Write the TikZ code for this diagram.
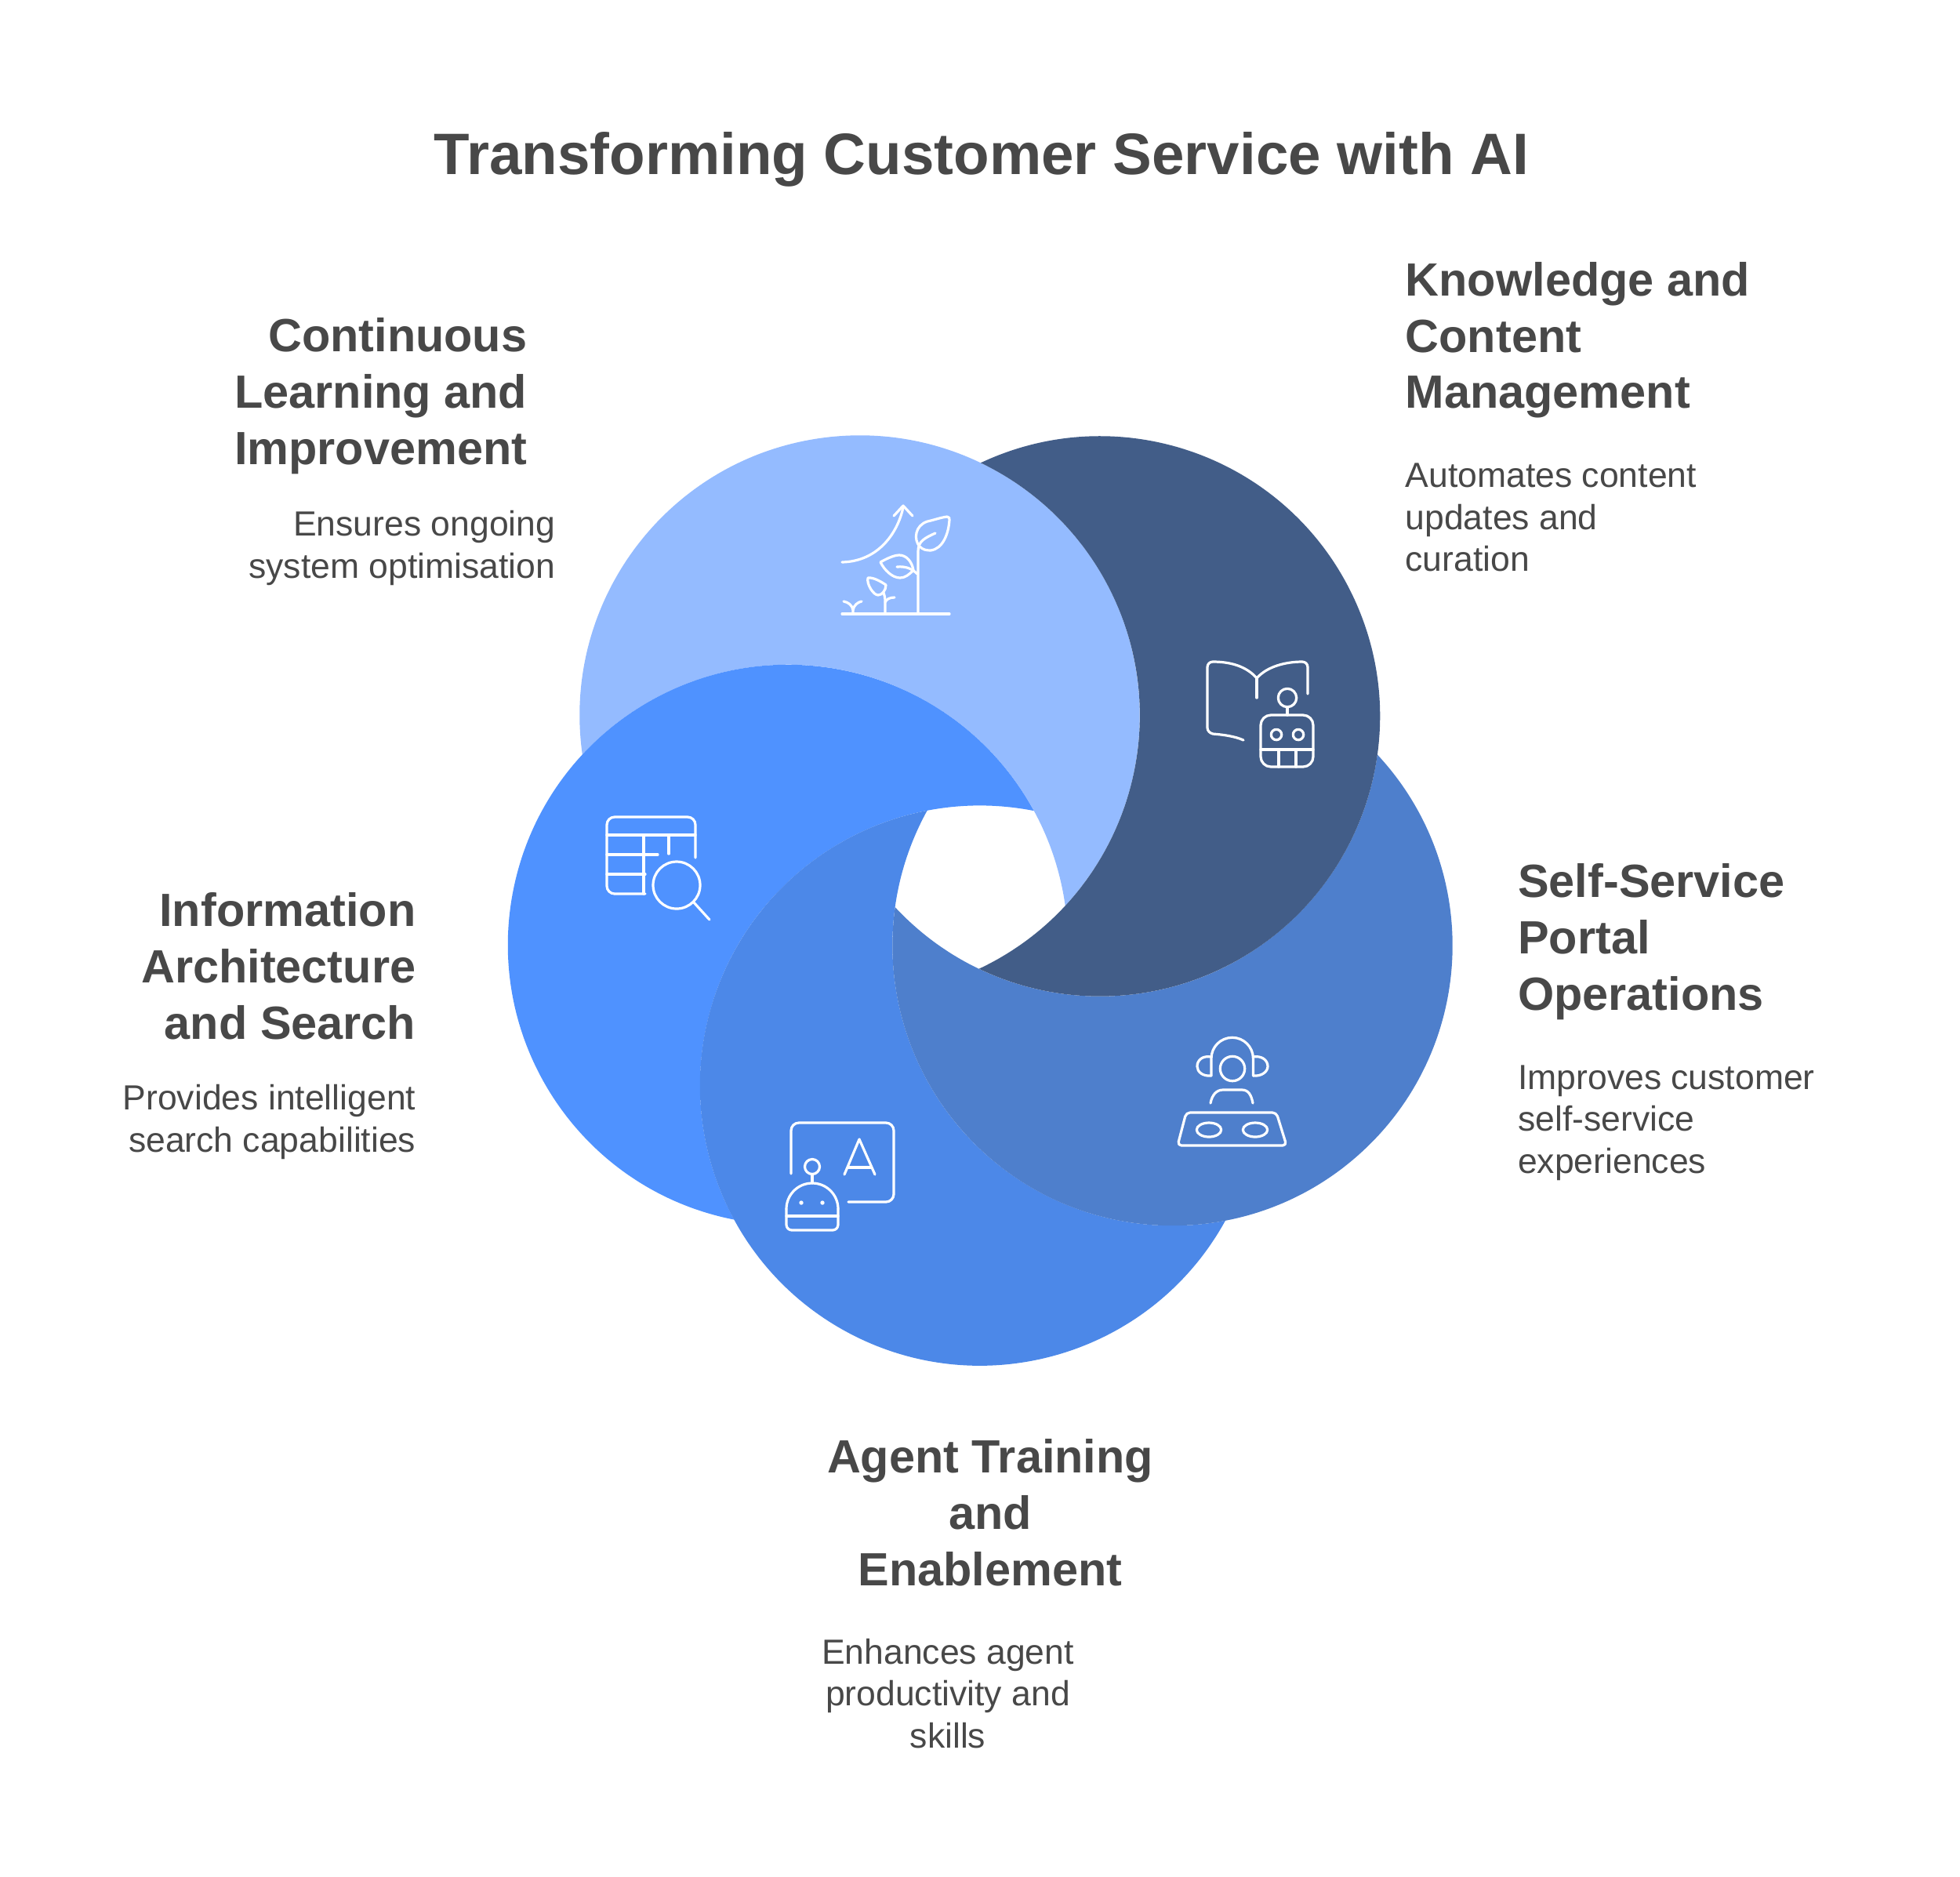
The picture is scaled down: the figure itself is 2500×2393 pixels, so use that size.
\documentclass[tikz,border=0pt]{standalone}
\usepackage{fontspec}
\setmainfont{Liberation Sans}
\definecolor{lightblue}{HTML}{94BBFF}
\definecolor{darkblue}{HTML}{425D88}
\definecolor{infoblue}{HTML}{4F92FF}
\definecolor{agentblue}{HTML}{4C88E8}
\definecolor{selfblue}{HTML}{4E7FCC}
\definecolor{inktext}{HTML}{484848}
\tikzset{
    maintitle/.style={text=inktext, inner sep=0pt, font=\fontsize{21.2}{26}\selectfont\bfseries},
    headtext/.style={text=inktext, inner sep=0pt, font=\fontsize{16.9}{20.4}\selectfont\bfseries},
    desctext/.style={text=inktext, inner sep=0pt, font=\fontsize{12.66}{15.2}\selectfont},
    icon/.style={white, line width=0.032cm, line cap=round, line join=round}
}
\begin{document}
\begin{tikzpicture}[x=0.01cm, y=-0.01cm]
        \useasboundingbox [fill=white] (0,0) rectangle (2500,2393);
        % Crescents
        \fill [lightblue] (1096.5,912.5) ++(171.97:357.2) arc (171.97:402.77:357.2) arc (351.97:222.77:357.2) -- cycle;
        \fill [infoblue] (1005,1205) ++(101.07:357.2) arc (101.07:331.41:357.2) arc (281.07:151.41:357.2) -- cycle;
        \fill [agentblue] (1250,1384.6) ++(28.82:357.2) arc (28.82:259.12:357.2) arc (208.82:79.12:357.2) -- cycle;
        \fill [selfblue] (1495.5,1206) ++(-42.98:357.2) arc (-42.98:187.88:357.2) arc (137.02:7.88:357.2) -- cycle;
        \fill [darkblue] (1403,913.5) ++(244.79:357.2) arc (244.79:475.59:357.2) arc (424.79:295.59:357.2) -- cycle;
        % Plant icon
        \draw [icon] (1074,783) -- (1211,783);
        \draw [icon] (1171,783) -- (1171,703) .. controls (1171,690) and (1180,686) .. (1193,680);
        \draw [icon] (1173,697) .. controls (1165,688) and (1167,670) .. (1183,665) .. controls (1192,663) and (1200,660) .. (1208,659) .. controls (1211,659) and (1211,661) .. (1211,663) .. controls (1210,680) and (1203,700) .. (1187,702) .. controls (1181,702) and (1177,701) .. (1173,697);
        \draw [icon] (1074,717) .. controls (1120,716) and (1145,680) .. (1152,647);
        \draw [icon] (1140,658) -- (1152,645) -- (1164,658);
        \draw [icon] (1123,717) .. controls (1130,713) and (1140,708) .. (1147,708) .. controls (1156,708) and (1163,716) .. (1165,727) .. controls (1160,733) and (1154,737) .. (1148,737) .. controls (1138,737) and (1128,727) .. (1123,717);
        \draw [icon] (1144,723) .. controls (1155,722) and (1163,725) .. (1170,732);
        \draw [icon] (1107,737) .. controls (1114,736) and (1124,742) .. (1130,746) .. controls (1130,753) and (1125,759) .. (1120,759) .. controls (1114,759) and (1105,745) .. (1107,737);
        \draw [icon] (1129,783) -- (1129,767) .. controls (1129,762) and (1128,759) .. (1127,756);
        \draw [icon] (1129,768) .. controls (1131,764) and (1135,762) .. (1141,762);
        \draw [icon] (1088,783) -- (1088,778) .. controls (1087,772) and (1082,768) .. (1076,767);
        \draw [icon] (1088,778) .. controls (1089,772) and (1094,768) .. (1099,767);
        % Book and robot icon
        \draw [icon] (1586,944) .. controls (1575,939) and (1560,937) .. (1547,936) .. controls (1543,935) and (1540,932) .. (1540,928) -- (1540,851) .. controls (1540,847) and (1543,844) .. (1547,844) .. controls (1570,844) and (1590,850) .. (1603,865) .. controls (1616,850) and (1640,844) .. (1661,844) .. controls (1665,844) and (1668,847) .. (1668,851) -- (1668,885);
        \draw [icon] (1603,865) -- (1603,890);
        \draw [icon] (1642,890) circle [radius=11.7];
        \draw [icon] (1642,902) -- (1642,912);
        \draw [icon, rounded corners=0.13cm] (1608,912) rectangle (1675,978);
        \draw [icon] (1628,937) circle [radius=6.7];
        \draw [icon] (1656,937) circle [radius=6.7];
        \draw [icon] (1608,956) -- (1675,956);
        \draw [icon] (1631,956) -- (1631,978);
        \draw [icon] (1653,956) -- (1653,978);
        % Table icon
        \draw [icon, rounded corners=0.1cm] (823,1140) -- (774,1140) -- (774,1042) -- (887,1042) -- (887,1094);
        \draw [icon] (774,1065) -- (887,1065);
        \draw [icon] (821,1065) -- (821,1140);
        \draw [icon] (853,1065) -- (853,1089);
        \draw [icon] (774,1090) -- (839,1090);
        \draw [icon] (774,1115) -- (823,1115);
        \draw [icon] (863,1129) circle [radius=30];
        \draw [icon] (885,1151) -- (905,1173);
        % Board and robot icon
        \draw [icon, rounded corners=0.1cm] (1009,1497) -- (1009,1432) -- (1140,1432) -- (1140,1533) -- (1082,1533);
        \draw [icon] (1077,1498) -- (1096,1453) -- (1116,1498);
        \draw [icon] (1082,1489) -- (1111,1489);
        \draw [icon] (1036,1488) circle [radius=9.5];
        \draw [icon] (1036,1498) -- (1036,1509);
        \draw [icon, rounded corners=0.07cm] (1003,1542) -- (1003,1569) -- (1069,1569) -- (1069,1542);
        \draw [icon] (1003,1542) arc (180:360:33);
        \draw [icon] (1003,1551) -- (1069,1551);
        \fill [white] (1022,1534) circle [radius=2.7];
        \fill [white] (1049,1534) circle [radius=2.7];
        % Headset and desk icon
        \draw [icon] (1572,1363) circle [radius=15.7];
        \draw [icon] (1545,1372) -- (1545,1350) arc (180:360:26.7) -- (1598.4,1372);
        \draw [icon] (1545,1348) .. controls (1534,1346) and (1527,1352) .. (1527,1360) .. controls (1527,1367) and (1534,1373) .. (1545,1372);
        \draw [icon] (1598.4,1348) .. controls (1609,1346) and (1617,1352) .. (1617,1360) .. controls (1617,1367) and (1609,1373) .. (1598.4,1372);
        \draw [icon] (1544,1407) .. controls (1546,1396) and (1552,1390) .. (1560,1390) -- (1584,1390) .. controls (1592,1390) and (1596,1396) .. (1598,1407);
        \draw [icon, rounded corners=0.05cm] (1513,1419) -- (1628,1419) -- (1641,1461) -- (1502,1461) -- cycle;
        \draw [icon] (1542,1441) ellipse [x radius=15.7, y radius=9];
        \draw [icon] (1601,1441) ellipse [x radius=15.7, y radius=9];
        % Testi
        \node [maintitle] (titlenode) at (1252,203) {Transforming Customer Service with AI};
        \node [headtext, align=right, anchor=east] (learninghead) at (673,505) {Continuous\\Learning and\\Improvement};
        \node [desctext, align=right, anchor=east] (learningdesc) at (709,699) {Ensures ongoing\\system optimisation};
        \node [headtext, align=left, anchor=west] (knowledgehead) at (1792,434) {Knowledge and\\Content\\Management};
        \node [desctext, align=left, anchor=west] (knowledgedesc) at (1792,660) {Automates content\\updates and\\curation};
        \node [headtext, align=left, anchor=west] (selfhead) at (1935.5,1201) {Self-Service\\Portal\\Operations};
        \node [desctext, align=left, anchor=west] (selfdesc) at (1935.5,1432) {Improves customer\\self-service\\experiences};
        \node [headtext, align=right, anchor=east] (infohead) at (531,1232) {Information\\Architecture\\and Search};
        \node [desctext, align=right, anchor=east] (infodesc) at (531,1431) {Provides intelligent\\search capabilities};
        \node [headtext, align=center] (agenthead) at (1263,1929) {Agent Training\\and\\Enablement};
        \node [desctext, align=center] (agentdesc) at (1209,2160) {Enhances agent\\productivity and\\skills};
    \end{tikzpicture}
\end{document}
